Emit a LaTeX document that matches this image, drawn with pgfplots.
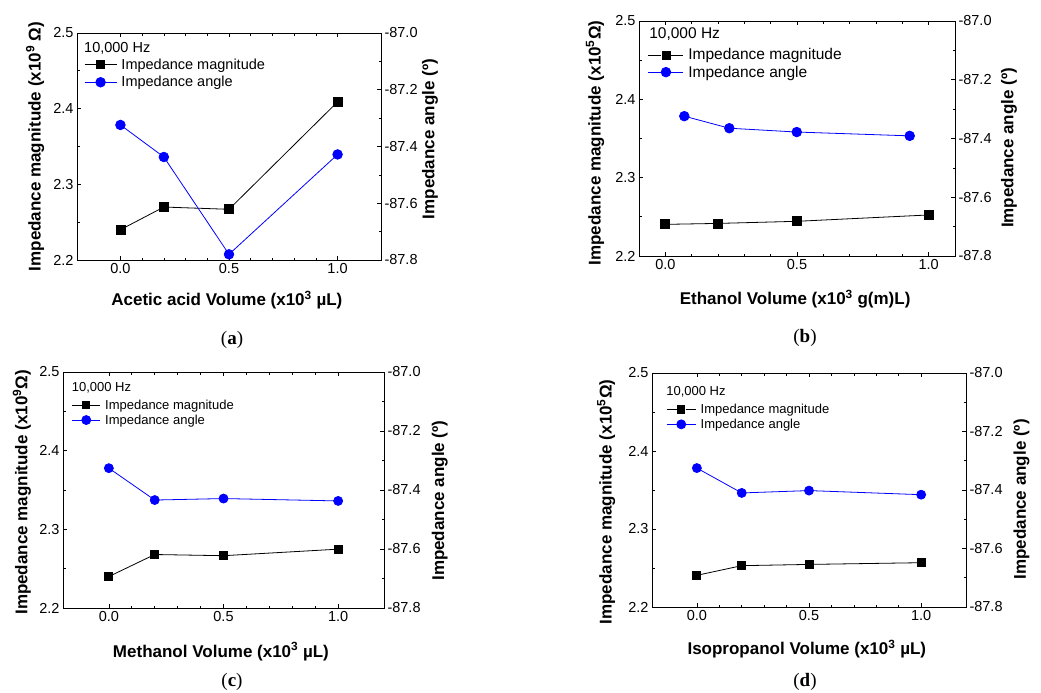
\documentclass[border=0pt]{standalone}
\usepackage{pgfplots}
\pgfplotsset{compat=1.18}
\usepackage{fontspec}
\setmainfont{Liberation Sans}
\newfontfamily\capfont{Liberation Serif}

\pgfplotsset{
  common/.style={
    scale only axis, anchor=south west,
    xmin=-0.2, xmax=1.2,
    tick align=inside,
    axis line style={line width=0.8pt},
    every tick/.style={black, line width=0.7pt},
    major tick length=4pt, minor tick length=2.5pt,
    tick label style={font=\fontsize{14.5}{16}\selectfont},
    label style={font=\fontsize{17}{19}\selectfont\bfseries, anchor=center},
    /pgf/number format/fixed,
    /pgf/number format/fixed zerofill,
    /pgf/number format/precision=1,
    /pgf/number format/assume math mode=true,
  },
  leftax/.style={common,
    ymin=2.2, ymax=2.5, ytick={2.2,2.3,2.4,2.5}, minor y tick num=1,
    ytick pos=left, xtick={0,0.5,1}, minor x tick num=4},
  rightax/.style={common,
    ymin=-87.8, ymax=-87.0, ytick={-87.8,-87.6,-87.4,-87.2,-87.0},
    minor y tick num=1, ytick pos=right, yticklabel pos=right,
    xtick=\empty,
    legend cell align=left,
    legend style={draw=none, fill=none, inner sep=0pt, anchor=north west,
      column sep=3pt, nodes={inner sep=1.5pt}}},
  mag/.style={black, line width=0.8pt, mark=square*, mark size=4.5pt,
    mark options={solid, fill=black}},
  ang/.style={blue, line width=0.8pt, mark=*, mark size=4.8pt,
    mark options={solid, fill=blue}},
  % legend sample: short line, gap, marker, gap, short line
  leglen/.style={legend image code/.code={%
    \draw[##1] (0pt,0pt) -- (0.35*#1,0pt);
    \draw[##1] (0.65*#1,0pt) -- (#1,0pt);
    \draw[##1] plot coordinates {(0.5*#1,0pt)};}},
}

\begin{document}
\begin{tikzpicture}
\path[use as bounding box] (0pt,0pt) rectangle (1041pt,-693pt);

% ---------- (a) acetic acid
\begin{axis}[leftax, at={(77pt,-260pt)}, width=304pt, height=227pt,
  xlabel={Acetic acid Volume (x10\textsuperscript{3} µL)},
  ylabel={Impedance magnitude (x10\textsuperscript{9} Ω)},
  xlabel style={at={(axis description cs:0.493,-0.176)}},
  ylabel style={at={(axis description cs:-0.138,0.5)}}]
\addplot[mag] table {
x y
0.0 2.240
0.2 2.270
0.5 2.267
1.0 2.409
};
\end{axis}
\begin{axis}[rightax, at={(77pt,-260pt)}, width=304pt, height=227pt,
  ylabel={Impedance angle (º)},
  ylabel style={at={(axis description cs:1.161,0.533)}},
  leglen=32pt,
  legend style={at={(axis description cs:0.023,0.894)}, row sep=2.5pt,
    font=\fontsize{14.5}{17}\selectfont}]
\addlegendimage{mag, mark size=4pt}\addlegendentry{Impedance magnitude}
\addplot[ang] table {
x y
0.0 -87.324
0.2 -87.437
0.5 -87.780
1.0 -87.428
};
\addlegendentry{Impedance angle}
\node[anchor=west, inner sep=0pt, font=\fontsize{14.5}{17}\selectfont]
  at (axis description cs:0.023,0.934) {10,000 Hz};
\end{axis}
\node[font=\capfont\fontsize{19}{21}\selectfont] at (232pt,-340pt) {(\textbf{a})};

% ---------- (b) ethanol
\begin{axis}[leftax, at={(639pt,-256pt)}, width=316pt, height=235pt,
  xmin=-0.1, xmax=1.1,
  xlabel={Ethanol Volume (x10\textsuperscript{3} g(m)L)},
  ylabel={Impedance magnitude (x10\textsuperscript{5}Ω)},
  xlabel style={at={(axis description cs:0.494,-0.183)}},
  ylabel style={at={(axis description cs:-0.139,0.481)}}]
\addplot[mag] table {
x y
0.0 2.2404
0.2 2.2416
0.5 2.2443
1.0 2.2524
};
\end{axis}
\begin{axis}[rightax, at={(639pt,-256pt)}, width=316pt, height=235pt,
  xmin=-0.1, xmax=1.1,
  ylabel={Impedance angle (º)},
  ylabel style={at={(axis description cs:1.171,0.46)}},
  leglen=35pt,
  legend style={at={(axis description cs:0.028,0.89)}, row sep=1.5pt,
    font=\fontsize{15.5}{19}\selectfont}]
\addlegendimage{mag, mark size=4pt}\addlegendentry{Impedance magnitude}
\addplot[ang] table {
x y
0.072 -87.324
0.243 -87.365
0.499 -87.378
0.928 -87.391
};
\addlegendentry{Impedance angle}
\node[anchor=west, inner sep=0pt, font=\fontsize{15.5}{19}\selectfont]
  at (axis description cs:0.032,0.945) {10,000 Hz};
\end{axis}
\node[font=\capfont\fontsize{19}{21}\selectfont] at (805pt,-338pt) {(\textbf{b})};

% ---------- (c) methanol
\begin{axis}[leftax, at={(63pt,-608pt)}, width=321pt, height=236pt,
  xlabel={Methanol Volume (x10\textsuperscript{3} µL)},
  ylabel={Impedance magnitude (x10\textsuperscript{9}Ω)},
  xlabel style={at={(axis description cs:0.492,-0.185)}},
  ylabel style={at={(axis description cs:-0.128,0.49)}}]
\addplot[mag, mark size=4pt] table {
x y
0.0 2.240
0.2 2.268
0.5 2.2665
1.0 2.2748
};
\end{axis}
\begin{axis}[rightax, at={(63pt,-608pt)}, width=321pt, height=236pt,
  ylabel={Impedance angle (º)},
  ylabel style={at={(axis description cs:1.174,0.455)}},
  leglen=28pt,
  legend style={at={(axis description cs:0.027,0.89)}, row sep=1pt,
    font=\fontsize{13}{16}\selectfont}]
\addlegendimage{mag, mark size=3.6pt}\addlegendentry{Impedance magnitude}
\addplot[ang, mark size=4.5pt] table {
x y
0.0 -87.326
0.2 -87.434
0.5 -87.429
1.0 -87.437
};
\addlegendentry{Impedance angle}
\node[anchor=west, inner sep=0pt, font=\fontsize{13}{16}\selectfont]
  at (axis description cs:0.027,0.935) {10,000 Hz};
\end{axis}
\node[font=\capfont\fontsize{19}{21}\selectfont] at (232pt,-682pt) {(\textbf{c})};

% ---------- (d) isopropanol
\begin{axis}[leftax, at={(652pt,-607pt)}, width=314pt, height=234pt,
  xlabel={Isopropanol Volume (x10\textsuperscript{3} µL)},
  ylabel={Impedance magnitude (x10\textsuperscript{5}Ω)},
  xlabel style={at={(axis description cs:0.493,-0.18)}},
  ylabel style={at={(axis description cs:-0.146,0.449)}}]
\addplot[mag, mark size=4pt] table {
x y
0.0 2.2406
0.2 2.2530
0.5 2.2546
1.0 2.2568
};
\end{axis}
\begin{axis}[rightax, at={(652pt,-607pt)}, width=314pt, height=234pt,
  ylabel={Impedance angle (º)},
  ylabel style={at={(axis description cs:1.177,0.46)}},
  leglen=29pt,
  legend style={at={(axis description cs:0.045,0.875)}, row sep=1pt,
    font=\fontsize{13}{16}\selectfont}]
\addlegendimage{mag, mark size=3.6pt}\addlegendentry{Impedance magnitude}
\addplot[ang, mark size=4.5pt] table {
x y
0.0 -87.325
0.2 -87.410
0.5 -87.402
1.0 -87.416
};
\addlegendentry{Impedance angle}
\node[anchor=west, inner sep=0pt, font=\fontsize{13}{16}\selectfont]
  at (axis description cs:0.045,0.921) {10,000 Hz};
\end{axis}
\node[font=\capfont\fontsize{19}{21}\selectfont] at (805pt,-682pt) {(\textbf{d})};
\end{tikzpicture}
\end{document}
